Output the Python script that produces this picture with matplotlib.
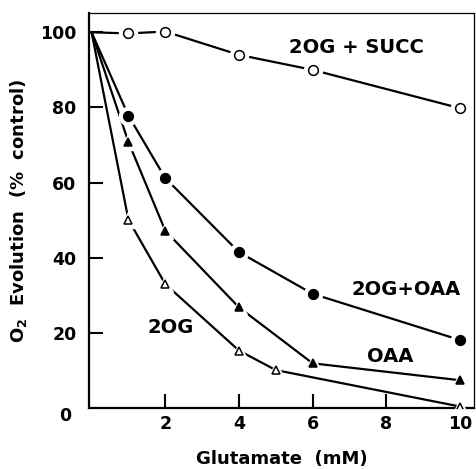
import matplotlib
matplotlib.use("Agg")
import matplotlib.pyplot as plt

plt.rcParams['font.family'] = ['DejaVu Sans']
plt.rcParams['font.weight'] = 'bold'
plt.rcParams['axes.labelweight'] = 'bold'

# glutamate (mM) and O2 evolution (% control)
x_succ = [0, 1, 2, 4, 6, 10]
y_succ = [100, 99.7, 100.2, 94, 90, 79.8]

x_oaa2og = [0, 1, 2, 4, 6, 10]
y_oaa2og = [100, 77.8, 61.2, 41.5, 30.4, 18.1]

x_oaa = [0, 1, 2, 4, 6, 10]
y_oaa = [100, 70.8, 47.2, 26.8, 11.9, 7.4]

x_2og = [0, 1, 2, 4, 5, 10]
y_2og = [100, 50.1, 33.0, 15.3, 10.1, 0.4]

series = [
    (x_succ, y_succ, "o", "white"),
    (x_oaa2og, y_oaa2og, "o", "black"),
    (x_oaa, y_oaa, "^", "black"),
    (x_2og, y_2og, "^", "white"),
]

fig = plt.figure(figsize=(4.77, 4.69), dpi=100)
ax = fig.add_axes([0.1866, 0.130, 0.807, 0.842])

for xs, ys, m, fc in series:
    ax.plot(xs, ys, color="black", lw=1.6, zorder=2)
    # white halo so the line breaks around each point
    ax.plot(xs[1:], ys[1:], m, ms=13 if m == "o" else 12, color="white",
            mec="white", zorder=3)
    ax.plot(xs[1:], ys[1:], m, ms=7 if m == "o" else 6, mfc=fc, mec="black",
            mew=1.1, zorder=4)

ax.set_xlim(-0.07, 10.38)
ax.set_ylim(0, 105.1)

ax.set_xticks([2, 4, 6, 8, 10])
ax.set_yticks([20, 40, 60, 80, 100])
ax.tick_params(direction="in", length=10, width=1.5, labelsize=12.5)
ax.tick_params(axis="y", pad=9)
ax.tick_params(axis="x", pad=5)
# the point at 10 mM hides the tick mark there
ax.xaxis.get_major_ticks()[-1].tick1line.set_visible(False)
ax.text(-0.72, -2.0, "0", ha="center", va="center", fontsize=12.5,
        fontweight="bold")

for s in ["left", "bottom"]:
    ax.spines[s].set_linewidth(1.6)
for s in ["top", "right"]:
    ax.spines[s].set_linewidth(0.9)

ax.text(7.2, 96, "2OG + SUCC", ha="center", va="center", fontsize=14)
ax.text(8.55, 31.5, "2OG+OAA", ha="center", va="center", fontsize=14)
ax.text(8.1, 13.8, "OAA", ha="center", va="center", fontsize=14)
ax.text(2.15, 21.3, "2OG", ha="center", va="center", fontsize=14)

ax.set_xlabel("Glutamate  (mM)", fontsize=13, labelpad=12)
ax.set_ylabel("O$_2$  Evolution  (%  control)", fontsize=13, labelpad=8)

fig.savefig("out.png", dpi=100)
